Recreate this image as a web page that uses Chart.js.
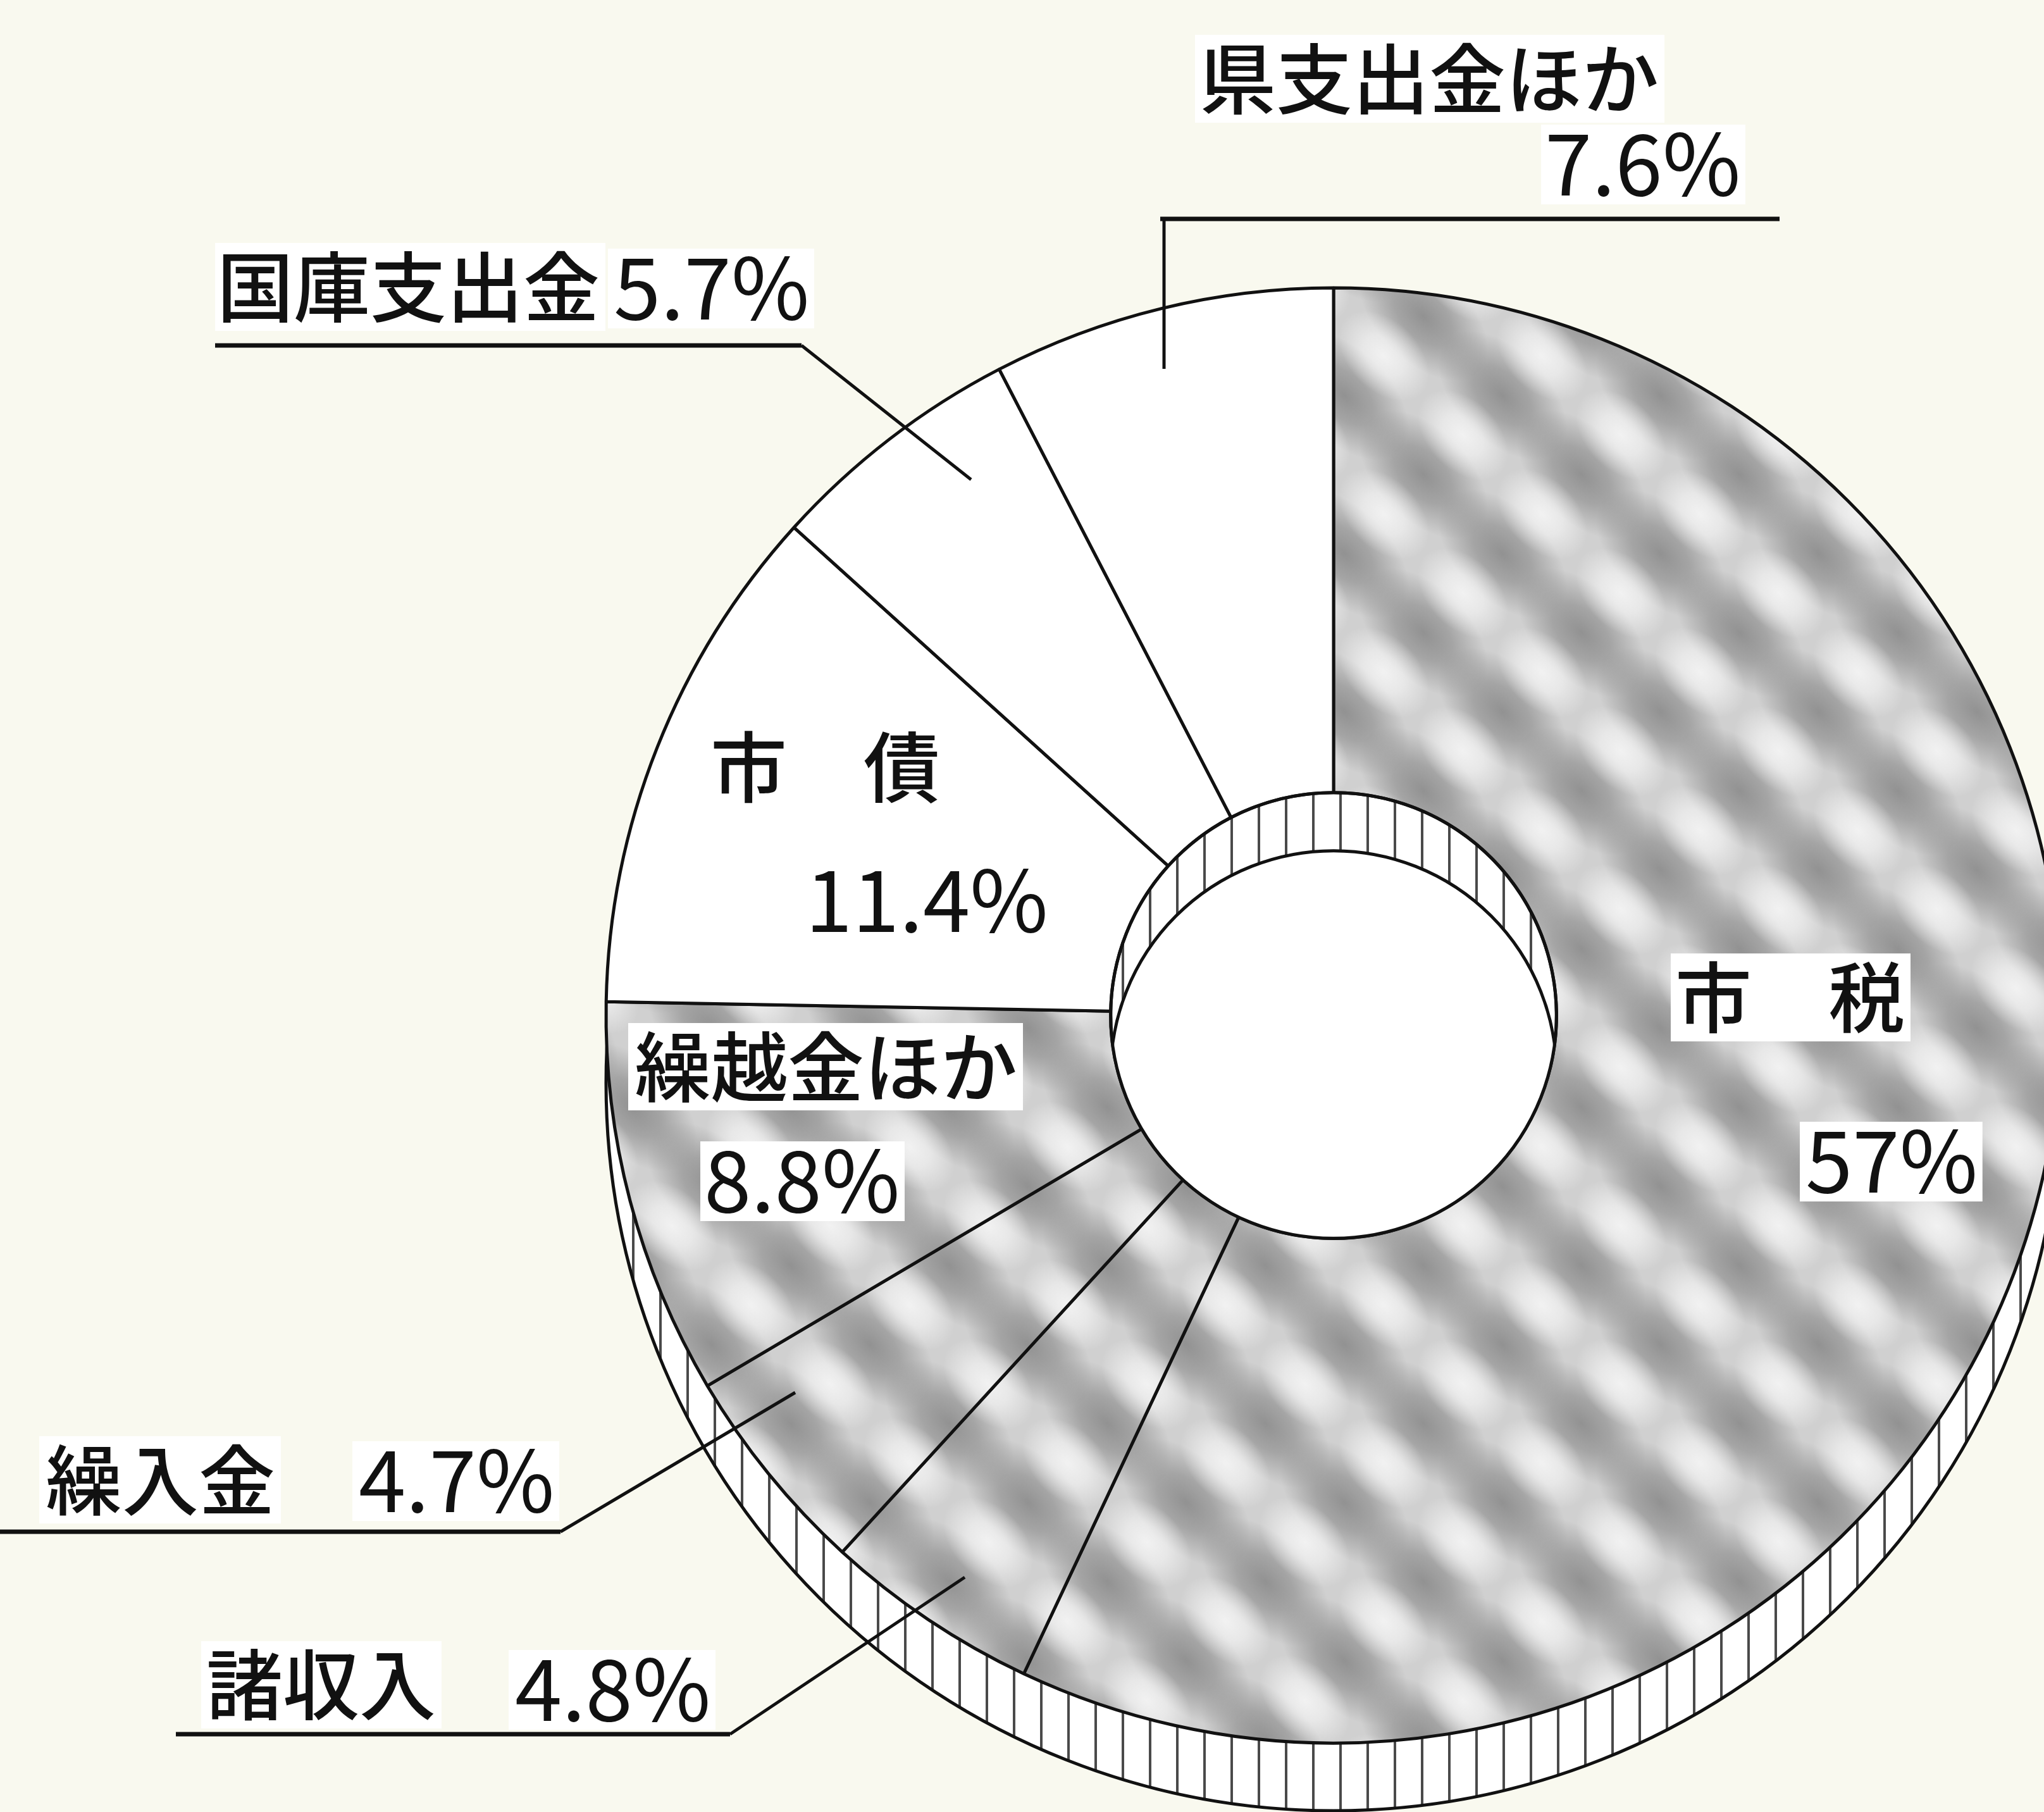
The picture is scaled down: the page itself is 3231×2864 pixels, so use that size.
<!DOCTYPE html>
<html><head><meta charset="utf-8">
<script src="https://cdn.jsdelivr.net/npm/chart.js@4.4.1/dist/chart.umd.min.js"></script>
<style>
html,body{margin:0;padding:0;overflow:hidden;background:#f9f9ef;width:3231px;height:2864px;}
#wrap{position:absolute;left:0;top:0;width:3400px;height:2864px;}
canvas{display:block;}
</style></head><body>
<div id="wrap"><canvas id="c" width="3400" height="2864"></canvas></div>
<script>
// ---- data ----
const categories = ['市税', '諸収入', '繰入金', '繰越金ほか', '市債', '国庫支出金', '県支出金ほか'];
const shares = [57, 4.8, 4.7, 8.8, 11.4, 5.7, 7.6];
const patterned = [true, true, true, true, false, false, false];

// ---- layout / style (page pixels) ----
const BG = '#f9f9ef';
const FONT_JA = '"Noto Sans CJK JP", "Noto Sans", sans-serif';
const NAME_FONT = `500 121px ${FONT_JA}`;
const PCT_FONT = `400 134px ${FONT_JA}`;
const RIM_DROP = 107, HOLE_DROP = 92, HATCH_STEP = 43;
const labelLayout = [
  {i: 0, spaced: true, nx: 2648, ny: 1576, px: 2854, pb: 1885, box: true},
  {i: 1, nx: 326, ny: 2662, px: 814, pb: 2720, box: true, lines: [[278, 2741, 1154, 2741], [1154, 2741, 1525, 2493]]},
  {i: 2, nx: 72, ny: 2339, px: 567, pb: 2390, box: true, lines: [[0, 2421, 886, 2421], [886, 2421, 1257, 2201]]},
  {i: 3, nx: 1003, ny: 1686, px: 1113, pb: 1916, box: true},
  {i: 4, spaced: true, nx: 1123, ny: 1212, px: 1273, pb: 1473},
  {i: 5, nx: 343, ny: 453, px: 970, pb: 505, box: true, lines: [[340, 546, 1267, 546], [1267, 546, 1535, 758]]},
  {i: 6, nx: 1896, ny: 124, px: 2442, pb: 309, box: true, lines: [[1834, 346, 2813, 346], [1840, 346, 1840, 583]]}
];

function makePattern() {
  const T = 250;
  const c = document.createElement('canvas');
  c.width = T; c.height = T;
  const g = c.getContext('2d');
  g.fillStyle = '#d0d0d0';
  g.fillRect(0, 0, T, T);
  const blob = (cx, cy, rx, ry, rgb, a) => {
    for (let ox = -T; ox <= T; ox += T) for (let oy = -T; oy <= T; oy += T) {
      g.save();
      g.translate(cx + ox, cy + oy);
      g.rotate(Math.PI / 4);
      g.scale(rx, ry);
      const gr = g.createRadialGradient(0, 0, 0, 0, 0, 1);
      gr.addColorStop(0, `rgba(${rgb},${a})`);
      gr.addColorStop(0.45, `rgba(${rgb},${a * 0.7})`);
      gr.addColorStop(1, `rgba(${rgb},0)`);
      g.fillStyle = gr;
      g.beginPath(); g.arc(0, 0, 1, 0, Math.PI * 2); g.fill();
      g.restore();
    }
  };
  blob(0, 0, 125, 72, '135,135,135', 0.85);
  blob(125, 125, 125, 72, '135,135,135', 0.85);
  blob(187.5, 62.5, 85, 55, '250,250,250', 0.8);
  blob(62.5, 187.5, 85, 55, '250,250,250', 0.8);
  return document.getElementById('c').getContext('2d').createPattern(c, 'repeat');
}

function drawText(ctx, str, x, y, font, baseline, box) {
  ctx.font = font;
  ctx.textAlign = 'left';
  ctx.textBaseline = baseline;
  if (box) {
    const m = ctx.measureText(str);
    const p = 12;
    ctx.fillStyle = '#ffffff';
    ctx.fillRect(x - m.actualBoundingBoxLeft - p, y - m.actualBoundingBoxAscent - p,
      m.actualBoundingBoxLeft + m.actualBoundingBoxRight + 2 * p,
      m.actualBoundingBoxAscent + m.actualBoundingBoxDescent + 2 * p);
  }
  ctx.fillStyle = '#111111';
  ctx.fillText(str, x, y);
}

const deco = {
  id: 'deco',
  beforeDraw(chart) {
    const {ctx, width, height} = chart;
    ctx.save(); ctx.fillStyle = BG; ctx.fillRect(0, 0, width, height); ctx.restore();
  },
  beforeDatasetsDraw(chart) {
    const arc = chart.getDatasetMeta(0).data[0];
    const {x, y, outerRadius: R} = arc.getProps(['x', 'y', 'outerRadius'], true);
    const ctx = chart.ctx;
    ctx.save();
    ctx.beginPath(); ctx.arc(x, y + RIM_DROP, R, 0, Math.PI * 2);
    ctx.fillStyle = '#ffffff'; ctx.fill();
    ctx.save(); ctx.clip();
    ctx.strokeStyle = '#4a4a4a'; ctx.lineWidth = 4;
    ctx.beginPath();
    for (let hx = x - R; hx <= x + R; hx += HATCH_STEP) {
      ctx.moveTo(hx, y - R); ctx.lineTo(hx, y + R + RIM_DROP + 2);
    }
    ctx.stroke();
    ctx.restore();
    ctx.beginPath(); ctx.arc(x, y + RIM_DROP, R, 0, Math.PI * 2);
    ctx.strokeStyle = '#111'; ctx.lineWidth = 5; ctx.stroke();
    ctx.restore();
  },
  afterDatasetsDraw(chart) {
    const arc = chart.getDatasetMeta(0).data[0];
    const {x, y, innerRadius: r} = arc.getProps(['x', 'y', 'innerRadius'], true);
    const ctx = chart.ctx;
    ctx.save();
    ctx.beginPath(); ctx.arc(x, y, r, 0, Math.PI * 2); ctx.clip();
    ctx.beginPath(); ctx.arc(x, y + HOLE_DROP, r, 0, Math.PI * 2);
    ctx.fillStyle = '#ffffff'; ctx.fill();
    ctx.strokeStyle = '#111'; ctx.lineWidth = 5; ctx.stroke();
    ctx.restore();
    ctx.save();
    ctx.beginPath(); ctx.arc(x, y, r, 0, Math.PI * 2);
    ctx.strokeStyle = '#111'; ctx.lineWidth = 5; ctx.stroke();
    ctx.restore();

    // labels
    ctx.save();
    labelLayout.forEach(L => {
      const name = L.spaced ? categories[L.i].split('').join('\u3000') : categories[L.i];
      const pct = shares[L.i] + '%';
      drawText(ctx, name, L.nx, L.ny, NAME_FONT, 'middle', L.box);
      drawText(ctx, pct, L.px, L.pb, PCT_FONT, 'alphabetic', L.box);
    });
    ctx.strokeStyle = '#111'; ctx.lineCap = 'butt';
    labelLayout.forEach(L => {
      (L.lines || []).forEach((s, k) => {
        ctx.lineWidth = k === 0 ? 7 : 5;
        ctx.beginPath(); ctx.moveTo(s[0], s[1]); ctx.lineTo(s[2], s[3]); ctx.stroke();
      });
    });
    ctx.restore();
  }
};

const pattern = makePattern();
new Chart(document.getElementById('c'), {
  type: 'doughnut',
  data: {
    labels: categories,
    datasets: [{
      data: shares,
      backgroundColor: patterned.map(p => p ? pattern : '#ffffff'),
      borderColor: '#111111',
      borderWidth: 5,
      radius: 1150,
      cutout: 385
    }]
  },
  options: {
    responsive: false,
    devicePixelRatio: 1,
    animation: false,
    events: [],
    layout: {padding: {left: 816, right: 0, top: 346, bottom: 0}},
    plugins: {legend: {display: false}, tooltip: {enabled: false}, title: {display: false}}
  },
  plugins: [deco]
});
</script>
</body></html>
